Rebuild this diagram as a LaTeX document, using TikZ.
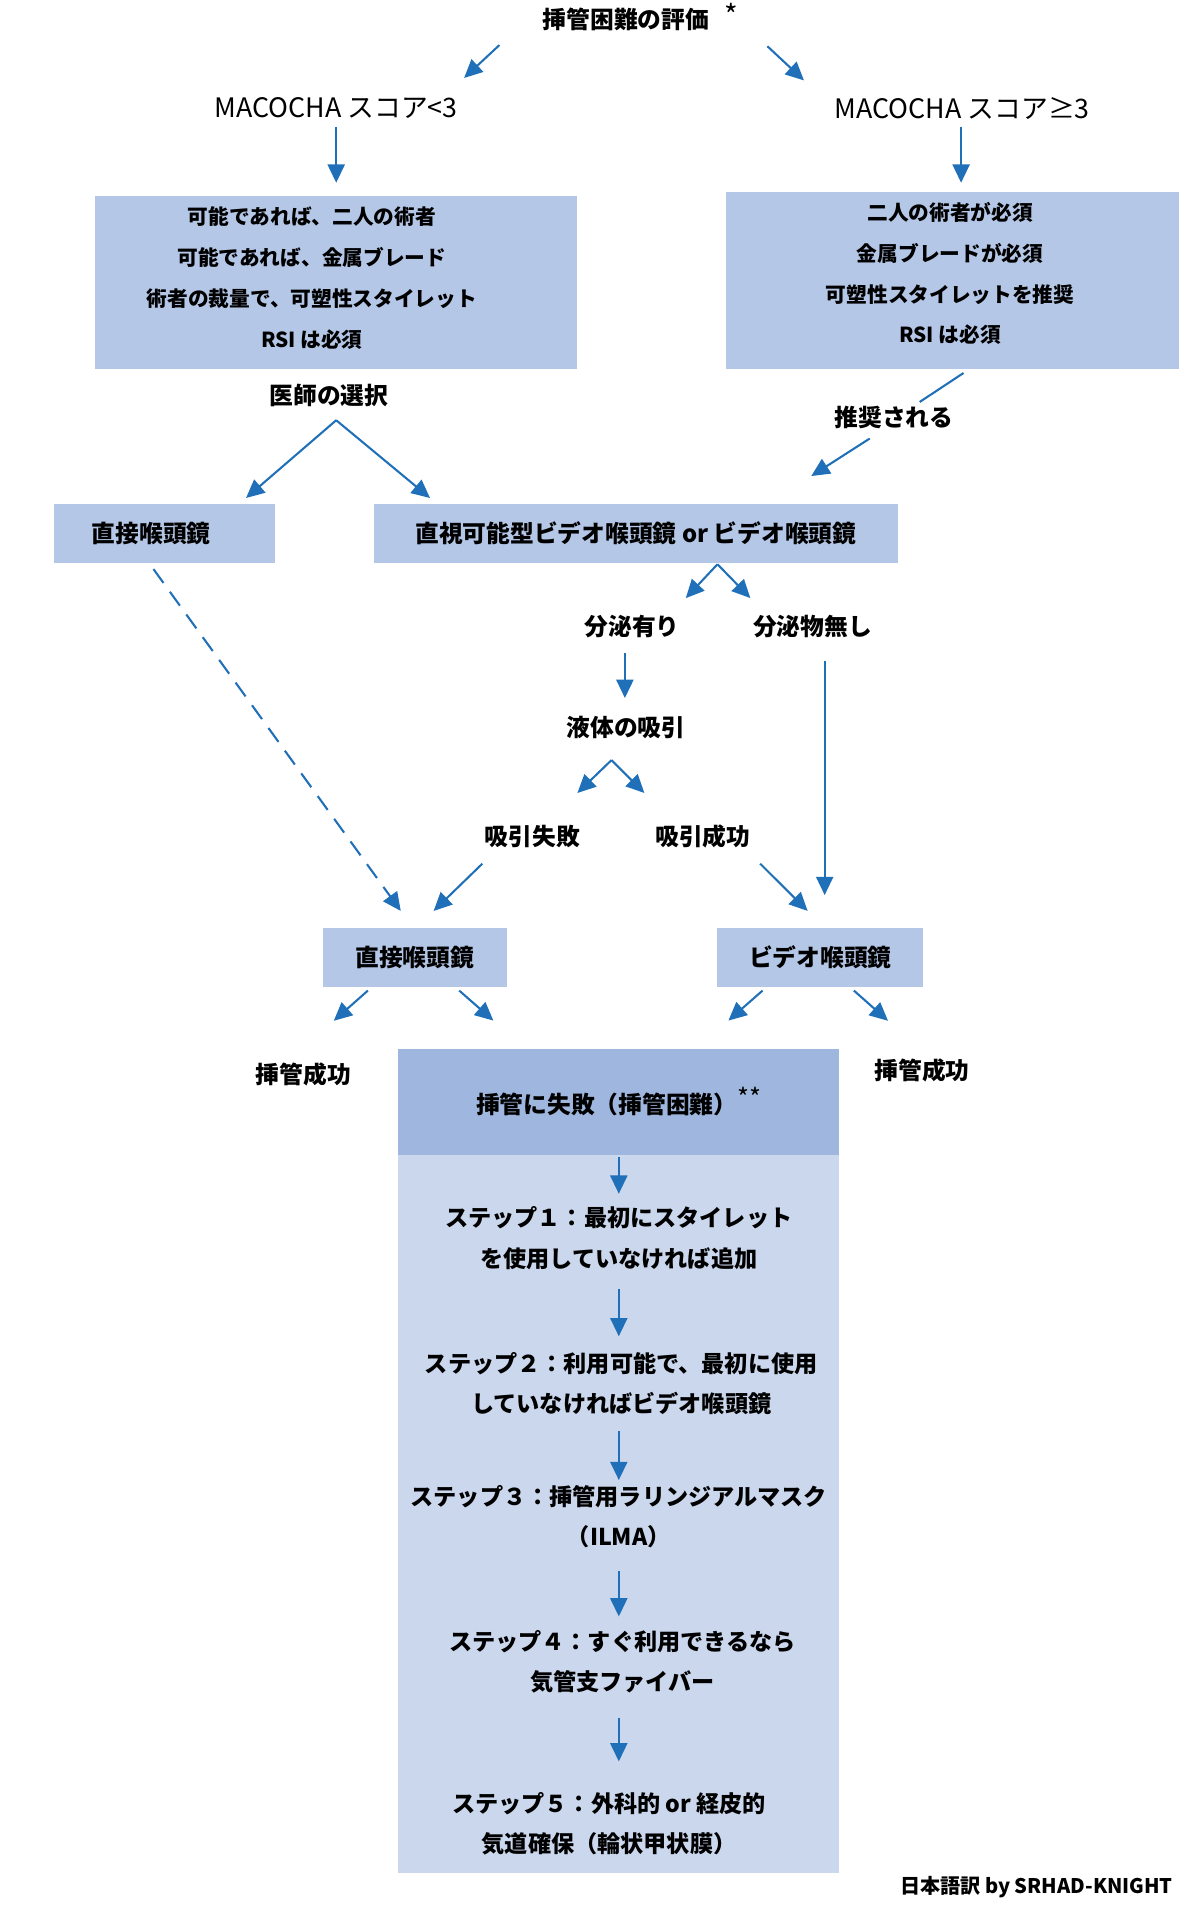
\documentclass[tikz,border=0pt]{standalone}
\usepackage{fontspec}
\setmainfont{Noto Sans CJK JP}
\usetikzlibrary{arrows.meta}
\definecolor{arrowblue}{HTML}{1F70B8}
\definecolor{boxblue}{HTML}{B4C7E7}
\definecolor{hdrblue}{HTML}{9FB7DF}
\definecolor{bodyblue}{HTML}{CBD7ED}
\begin{document}
\begin{tikzpicture}[x=1pt,y=-1pt,
  arr/.style={draw=arrowblue, line width=1.7pt, -{Triangle[length=15pt,width=14pt]}},
  dasharr/.style={arr, dash pattern=on 14pt off 9pt},
  plainline/.style={draw=arrowblue, line width=1.7pt},
  lblfont/.style={font=\fontsize{19.5}{22}\selectfont\bfseries},
  lbl/.style={lblfont, inner sep=0pt},
  mac/.style={font=\fontsize{22}{24}\selectfont, inner sep=0pt},
  bluebox/.style={fill=boxblue, draw=none, inner sep=0pt},
  boxtxt/.style={font=\fontsize{17}{33.6}\selectfont\bfseries, align=center, inner sep=0pt},
  steptxt/.style={font=\fontsize{19}{33}\selectfont\bfseries, align=center, inner sep=0pt}
]
\useasboundingbox[fill=white] (0,0) rectangle (985,1568);

% top
\node[lbl] (title) at (514,16) {挿管困難の評価};
\node[font=\fontsize{24}{26}\selectfont, inner sep=0pt] (ast) at (600,12) {*};
\node[mac] (mac1) at (276,89) {MACOCHA スコア<3};
\node[mac] (mac2) at (790,89) {MACOCHA スコア≥3};

% boxes
\node[bluebox, minimum width=396pt, minimum height=142pt] (box1) at (276,232) {};
\node[boxtxt] (box1t) at (256,228.5) {可能であれば、二人の術者\\可能であれば、金属ブレード\\術者の裁量で、可塑性スタイレット\\RSI は必須};
\node[bluebox, minimum width=372pt, minimum height=145pt] (box2) at (782,230.5) {};
\node[boxtxt] (box2t) at (780,224.5) {二人の術者が必須\\金属ブレードが必須\\可塑性スタイレットを推奨\\RSI は必須};

\node[lbl] (choice) at (270,325) {医師の選択};
\node[lbl] (rec) at (734,343) {推奨される};

\node[bluebox, lblfont, minimum width=182pt, minimum height=48pt] (box3) at (135,438) {\makebox[119pt][l]{直接喉頭鏡}};
\node[bluebox, lblfont, minimum width=430pt, minimum height=48pt] (box4) at (522,438) {直視可能型ビデオ喉頭鏡 or ビデオ喉頭鏡};

\node[lbl] (sec1) at (519,514) {分泌有り};
\node[lbl] (sec2) at (667,514) {分泌物無し};
\node[lbl] (fluid) at (514,597) {液体の吸引};
\node[lbl] (fail) at (437,687) {吸引失敗};
\node[lbl] (succ) at (577,687) {吸引成功};

\node[bluebox, lblfont, minimum width=151pt, minimum height=48pt] (box5) at (340.5,786) {直接喉頭鏡};
\node[bluebox, lblfont, minimum width=169pt, minimum height=48pt] (box6) at (673.5,786) {ビデオ喉頭鏡};

\node[lbl] (okL) at (249,882) {挿管成功};
\node[lbl] (okR) at (757,879) {挿管成功};

% big box
\node[fill=hdrblue, inner sep=0pt, lblfont, minimum width=362pt, minimum height=87pt] (hdr) at (508,904.5) {挿管に失敗（挿管困難）\raisebox{5pt}{\mdseries\fontsize{21}{21}\selectfont **}};
\node[fill=bodyblue, inner sep=0pt, minimum width=362pt, minimum height=590pt] (body) at (508,1243) {};

\node[steptxt] (s1) at (508,1016.5) {ステップ１：最初にスタイレット\\を使用していなければ追加};
\node[steptxt] (s2) at (510,1136) {ステップ２：利用可能で、最初に使用\\していなければビデオ喉頭鏡};
\node[steptxt] (s3) at (508,1245) {ステップ３：挿管用ラリンジアルマスク\\（ILMA）};
\node[steptxt] (s4) at (511,1364) {ステップ４：すぐ利用できるなら\\気管支ファイバー};
\node[steptxt] (s5) at (500,1497) {ステップ５：外科的 or 経皮的\\気道確保（輪状甲状膜）};

\node[font=\fontsize{16.5}{19}\selectfont\bfseries, anchor=east, inner sep=0pt] (credit) at (963,1549) {日本語訳 by SRHAD-KNIGHT};

% connectors
\draw[arr] ([shift={(-104,21)}]title.center) -- ([shift={(105,-25)}]mac1.center);
\draw[arr] ([shift={(116,22)}]title.center) -- ([shift={(-130,-23)}]mac2.center);
\draw[arr] ([shift={(0,15)}]mac1.center) -- ([shift={(0,-82)}]box1.center);
\draw[arr] ([shift={(-1,15)}]mac2.center) -- ([shift={(7,-80.5)}]box2.center);
\draw[plainline] ([shift={(9,3)}]box2.south) -- ([shift={(21,-13)}]rec.center);
\draw[arr] ([shift={(-20,17)}]rec.center) -- ([shift={(144,-23)}]box4.north);
\draw[arr] ([shift={(6,20)}]choice.center) -- ([shift={(67,-5)}]box3.north);
\draw[arr] ([shift={(6,20)}]choice.center) -- ([shift={(-169,-5)}]box4.north);
\draw[arr] ([shift={(67,1)}]box4.south) -- ([shift={(44,-23)}]sec1.center);
\draw[arr] ([shift={(67,1)}]box4.south) -- ([shift={(-51,-23)}]sec2.center);
\draw[arr] ([shift={(-6,22)}]sec1.center) -- ([shift={(-1,-24)}]fluid.center);
\draw[arr] ([shift={(-12,27)}]fluid.center) -- ([shift={(37,-36)}]fail.center);
\draw[arr] ([shift={(-12,27)}]fluid.center) -- ([shift={(-48,-36)}]succ.center);
\draw[arr] ([shift={(-41,22)}]fail.center) -- ([shift={(15.5,-14)}]box5.north);
\draw[arr] ([shift={(47,22)}]succ.center) -- ([shift={(-10.5,-14)}]box6.north);
\draw[arr] ([shift={(10,29)}]sec2.center) -- ([shift={(3.5,-27)}]box6.north);
\draw[dasharr] ([shift={(-9,5)}]box3.south) -- ([shift={(-11.5,-14)}]box5.north);
\draw[arr] ([shift={(-38.5,3)}]box5.south) -- ([shift={(25,-44)}]okL.center);
\draw[arr] ([shift={(36.5,3)}]box5.south) -- ([shift={(-103,-23)}]hdr.north);
\draw[arr] ([shift={(-47.5,3)}]box6.south) -- ([shift={(90,-23)}]hdr.north);
\draw[arr] ([shift={(27.5,3)}]box6.south) -- ([shift={(-28,-41)}]okR.center);
\draw[arr] ([shift={(0,2)}]hdr.south) -- ([shift={(0,-36.5)}]s1.center);
\draw[arr] ([shift={(0,41.5)}]s1.center) -- ([shift={(-2,-39)}]s2.center);
\draw[arr] ([shift={(-2,39)}]s2.center) -- ([shift={(0,-30)}]s3.center);
\draw[arr] ([shift={(0,45)}]s3.center) -- ([shift={(-3,-37)}]s4.center);
\draw[arr] ([shift={(-3,46)}]s4.center) -- ([shift={(8,-51)}]s5.center);
\end{tikzpicture}
\end{document}
